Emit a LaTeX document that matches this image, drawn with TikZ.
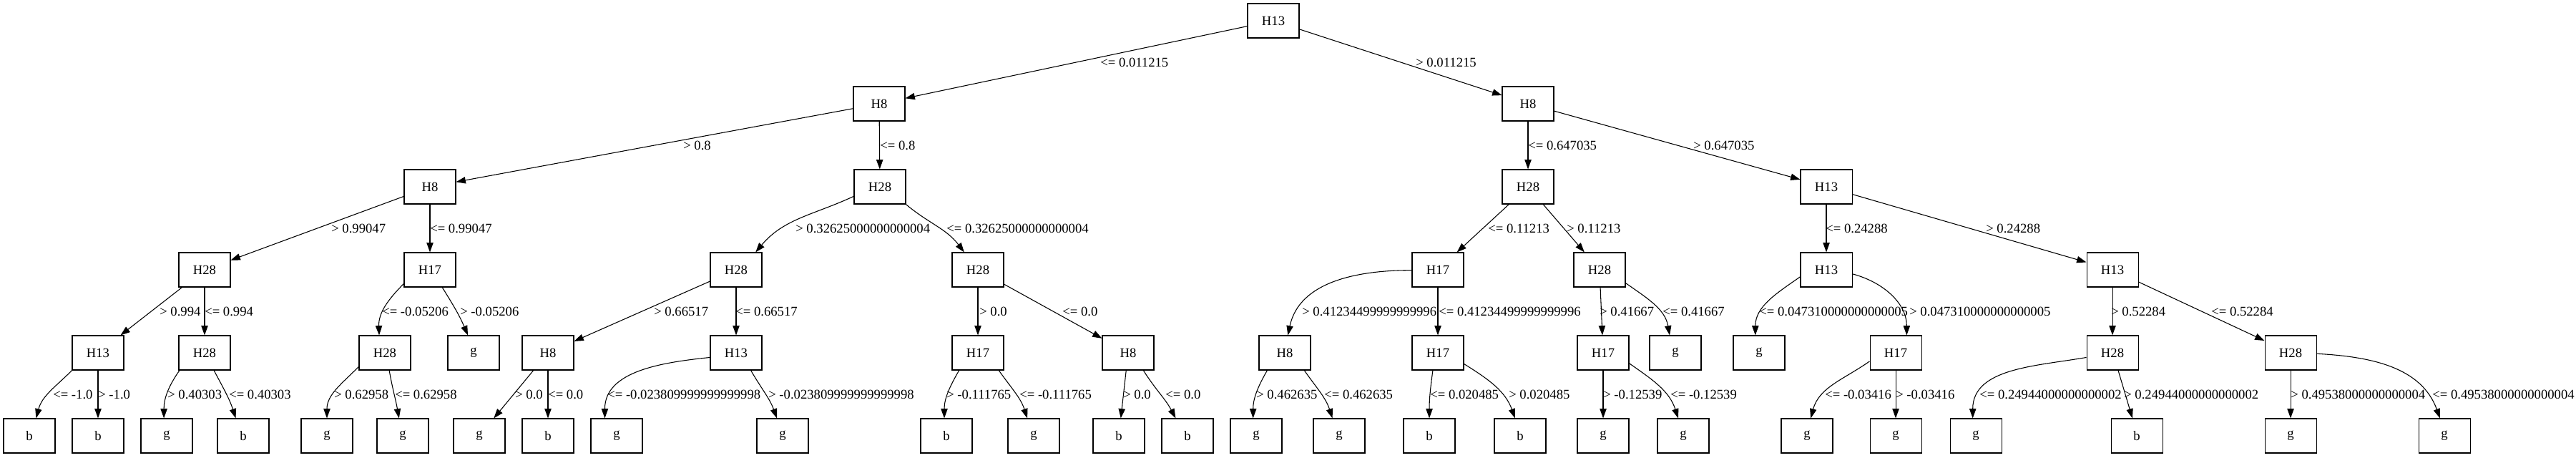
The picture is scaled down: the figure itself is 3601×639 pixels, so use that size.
\documentclass[tikz,border=0pt]{standalone}
\usepackage{fontspec}
\setmainfont{Liberation Serif}
\usetikzlibrary{arrows.meta}

\begin{document}
\begin{tikzpicture}[x=0.75pt,y=-0.75pt,
  box/.style={draw=black,line width=0.8pt,rectangle,minimum width=54pt,minimum height=36pt,font=\fontsize{14pt}{16pt}\selectfont},
  lbl/.style={anchor=west,font=\fontsize{14pt}{16pt}\selectfont},
  edge/.style={draw=black,line width=0.8pt,-{Triangle[length=10pt,width=7pt]}}]
\tikzstyle{every node}+=[inner sep=0pt]
\useasboundingbox (0,0) rectangle (3601,639);
% level 0 and 1
\node [box] (A) at (1780,29) {H13};
\node [box] (B1) at (1229,145) {H8};
\node [box] (B2) at (2136,145) {H8};
% level 2
\node [box] (C1) at (601,261) {H8};
\node [box] (C2) at (1230,261) {H28};
\node [box] (C3) at (2136,261) {H28};
\node [box] (C4) at (2553,261) {H13};
% level 3
\node [box] (D1) at (286,377) {H28};
\node [box] (D2) at (601,377) {H17};
\node [box] (D3) at (1029,377) {H28};
\node [box] (D4) at (1367,377) {H28};
\node [box] (D5) at (2010,377) {H17};
\node [box] (D6) at (2236,377) {H28};
\node [box] (D7) at (2553,377) {H13};
\node [box] (D8) at (2953,377) {H13};
% level 4
\node [box] (E1) at (137,493) {H13};
\node [box] (E2) at (286,493) {H28};
\node [box] (E3) at (538,493) {H28};
\node [box] (E4) at (662,493) {g};
\node [box] (E5) at (766,493) {H8};
\node [box] (E6) at (1029,493) {H13};
\node [box] (E7) at (1367,493) {H17};
\node [box] (E8) at (1577,493) {H8};
\node [box] (E9) at (1796,493) {H8};
\node [box] (E10) at (2010,493) {H17};
\node [box] (E11) at (2241,493) {H17};
\node [box] (E12) at (2342,493) {g};
\node [box] (E13) at (2459,493) {g};
\node [box] (E14) at (2650,493) {H17};
\node [box] (E15) at (2953,493) {H28};
\node [box] (E16) at (3202,493) {H28};
% level 5
\node [box] (F1) at (41,609) {b};
\node [box] (F2) at (137,609) {b};
\node [box] (F3) at (233,609) {g};
\node [box] (F4) at (340,609) {b};
\node [box] (F5) at (457,609) {g};
\node [box] (F6) at (563,609) {g};
\node [box] (F7) at (670,609) {g};
\node [box] (F8) at (766,609) {b};
\node [box] (F9) at (862,609) {g};
\node [box] (F10) at (1094,609) {g};
\node [box] (F11) at (1323,609) {b};
\node [box] (F12) at (1445,609) {g};
\node [box] (F13) at (1564,609) {b};
\node [box] (F14) at (1660,609) {b};
\node [box] (F15) at (1756,609) {g};
\node [box] (F16) at (1872,609) {g};
\node [box] (F17) at (1998,609) {b};
\node [box] (F18) at (2125,609) {b};
\node [box] (F19) at (2241,609) {g};
\node [box] (F20) at (2353,609) {g};
\node [box] (F21) at (2526,609) {g};
\node [box] (F22) at (2650,609) {g};
\node [box] (F23) at (2762,609) {g};
\node [box] (F24) at (2987,609) {b};
\node [box] (F25) at (3202,609) {g};
\node [box] (F26) at (3417,609) {g};
% edges
\draw [edge] (A) -- (B1);
\draw [edge] (A) -- (B2);
\draw [edge] (B1) -- (C1);
\draw [edge] (B1) -- (C2);
\draw [edge] (B2) -- (C3);
\draw [edge] (B2) -- (C4);
\draw [edge] (C1) -- (D1);
\draw [edge] (C1) -- (D2);
\draw [edge] (C2.200) to[out=205,in=50] (D3.42);
\draw [edge] (C2.-34) to[out=-40,in=127] (D4.128);
\draw [edge] (C3) -- (D5);
\draw [edge] (C3) -- (D6);
\draw [edge] (C4) -- (D7);
\draw [edge] (C4) -- (D8);
\draw [edge] (D1) -- (E1);
\draw [edge] (D1) -- (E2);
\draw [edge] (D2.208) to[out=225,in=92] (E3.108);
\draw [edge] (D2.-55) to[out=-58,in=113] (E4.108);
\draw [edge] (D3) -- (E5);
\draw [edge] (D3) -- (E6);
\draw [edge] (D4) -- (E7);
\draw [edge] (D4) -- (E8);
\draw [edge] (D5.181) to[out=180,in=78] (E9.80);
\draw [edge] (D5) -- (E10);
\draw [edge] (D6) -- (E11);
\draw [edge] (D6.-27) to[out=-35,in=100] (E12.108);
\draw [edge] (D7.195) to[out=215,in=90] (E13.102);
\draw [edge] (D7.-9) to[out=-15,in=90] (E14.58);
\draw [edge] (D8) -- (E15);
\draw [edge] (D8) -- (E16);
\draw [edge] (E1.214) to[out=225,in=75] (F1.69);
\draw [edge] (E1) -- (F2);
\draw [edge] (E2.215) to[out=235,in=90] (F3.99);
\draw [edge] (E2.-62) to[out=-62,in=108] (F4.113);
\draw [edge] (E3.208) to[out=225,in=90] (F5.90);
\draw [edge] (E3.-76) to[out=-80,in=100] (F6.102);
\draw [edge] (E5) -- (F7);
\draw [edge] (E5) -- (F8);
\draw [edge] (E6.190) to[out=186,in=90] (F9.124);
\draw [edge] (E6.-50) to[out=-60,in=110] (F10.108);
\draw [edge] (E7.223) to[out=240,in=90] (F11.97);
\draw [edge] (E7.-40) to[out=-55,in=108] (F12.110);
\draw [edge] (E8) -- (F13);
\draw [edge] (E8.-49) to[out=-58,in=118] (F14.124);
\draw [edge] (E9.225) to[out=240,in=90] (F15.100);
\draw [edge] (E9.-42) to[out=-55,in=108] (F16.111);
\draw [edge] (E10.254) to[out=262,in=90] (F17.north);
\draw [edge] (E10.-23) to[out=-32,in=110] (F18.106);
\draw [edge] (E11) -- (F19);
\draw [edge] (E11.-22) to[out=-35,in=108] (F20.106);
\draw [edge] (E14.198) to[out=215,in=75] (F21.78);
\draw [edge] (E14) -- (F22);
\draw [edge] (E15.190) to[out=190,in=90] (F23.100);
\draw [edge] (E15.-72) -- (F24.104);
\draw [edge] (E16) -- (F25);
\draw [edge] (E16.-2) to[out=-3,in=110] (F26.104);
% labels
\node [lbl] (LA1) at (1538,87) {<= 0.011215};
\node [lbl] (LA2) at (1979,87) {> 0.011215};
\node [lbl] (LB1) at (955,203) {> 0.8};
\node [lbl] (LB2) at (1230,203) {<= 0.8};
\node [lbl] (LB3) at (2136,203) {<= 0.647035};
\node [lbl] (LB4) at (2367,203) {> 0.647035};
\node [lbl] (LC1) at (463,319) {> 0.99047};
\node [lbl] (LC2) at (601,319) {<= 0.99047};
\node [lbl] (LC3) at (1112,319) {> 0.32625000000000004};
\node [lbl] (LC4) at (1323,319) {<= 0.32625000000000004};
\node [lbl] (LC5) at (2080,319) {<= 0.11213};
\node [lbl] (LC6) at (2190,319) {> 0.11213};
\node [lbl] (LC7) at (2552,319) {<= 0.24288};
\node [lbl] (LC8) at (2776,319) {> 0.24288};
\node [lbl] (LD1) at (223,435) {> 0.994};
\node [lbl] (LD2) at (286,435) {<= 0.994};
\node [lbl] (LD3) at (534,435) {<= -0.05206};
\node [lbl] (LD4) at (643,435) {> -0.05206};
\node [lbl] (LD5) at (914,435) {> 0.66517};
\node [lbl] (LD6) at (1028,435) {<= 0.66517};
\node [lbl] (LD7) at (1369,435) {> 0.0};
\node [lbl] (LD8) at (1485,435) {<= 0.0};
\node [lbl] (LD9) at (1820,435) {> 0.41234499999999996};
\node [lbl] (LD10) at (2011,435) {<= 0.41234499999999996};
\node [lbl] (LD11) at (2236,435) {> 0.41667};
\node [lbl] (LD12) at (2324,435) {<= 0.41667};
\node [lbl] (LD13) at (2459,435) {<= 0.047310000000000005};
\node [lbl] (LD14) at (2669,435) {> 0.047310000000000005};
\node [lbl] (LD15) at (2951,435) {> 0.52284};
\node [lbl] (LD16) at (3091,435) {<= 0.52284};
\node [lbl] (LE1) at (74,551) {<= -1.0};
\node [lbl] (LE2) at (137,551) {> -1.0};
\node [lbl] (LE3) at (234,551) {> 0.40303};
\node [lbl] (LE4) at (320,551) {<= 0.40303};
\node [lbl] (LE5) at (467,551) {> 0.62958};
\node [lbl] (LE6) at (552,551) {<= 0.62958};
\node [lbl] (LE7) at (720,551) {> 0.0};
\node [lbl] (LE8) at (766,551) {<= 0.0};
\node [lbl] (LE9) at (849,551) {<= -0.023809999999999998};
\node [lbl] (LE10) at (1074,551) {> -0.023809999999999998};
\node [lbl] (LE11) at (1323,551) {> -0.111765};
\node [lbl] (LE12) at (1425,551) {<= -0.111765};
\node [lbl] (LE13) at (1570,551) {> 0.0};
\node [lbl] (LE14) at (1629,551) {<= 0.0};
\node [lbl] (LE15) at (1756,551) {> 0.462635};
\node [lbl] (LE16) at (1851,551) {<= 0.462635};
\node [lbl] (LE17) at (1999,551) {<= 0.020485};
\node [lbl] (LE18) at (2109,551) {> 0.020485};
\node [lbl] (LE19) at (2241,551) {> -0.12539};
\node [lbl] (LE20) at (2335,551) {<= -0.12539};
\node [lbl] (LE21) at (2551,551) {<= -0.03416};
\node [lbl] (LE22) at (2650,551) {> -0.03416};
\node [lbl] (LE23) at (2767,551) {<= 0.24944000000000002};
\node [lbl] (LE24) at (2969,551) {> 0.24944000000000002};
\node [lbl] (LE25) at (3202,551) {> 0.49538000000000004};
\node [lbl] (LE26) at (3400,551) {<= 0.49538000000000004};
\end{tikzpicture}
\end{document}
